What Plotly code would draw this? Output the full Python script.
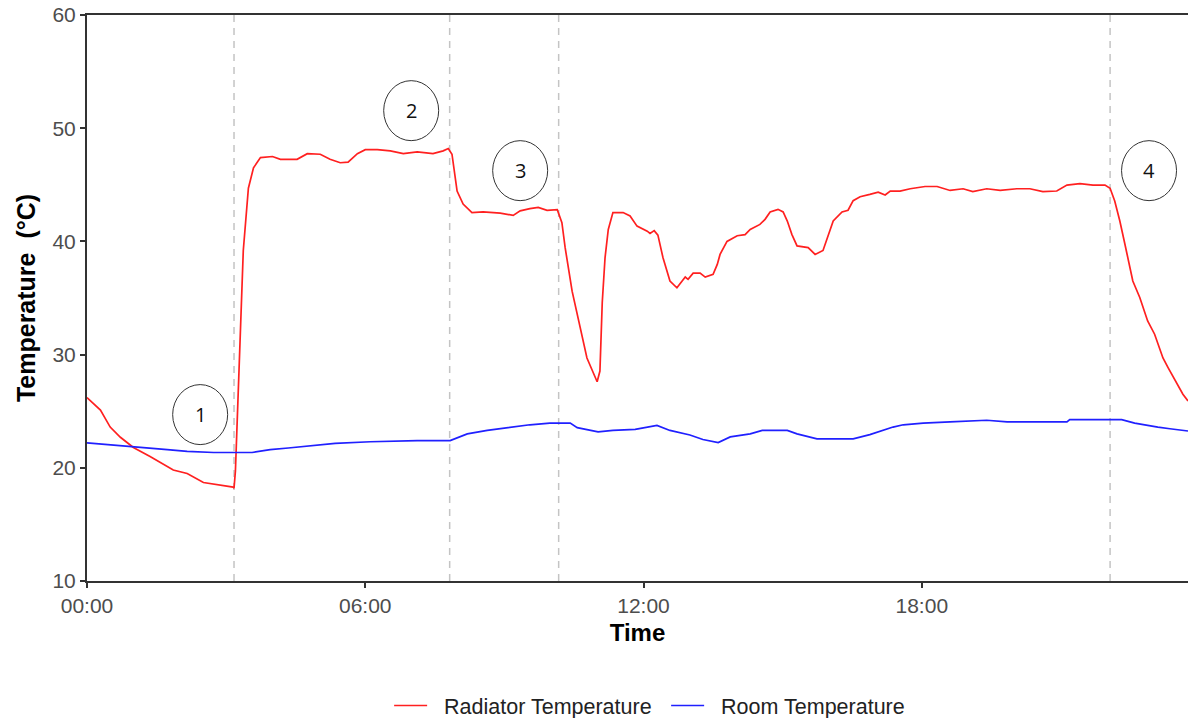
import plotly.graph_objects as go

# ---- data (time in hours since 00:00) ----
rad_hours = [0.00, 0.29, 0.50, 0.72, 1.00, 1.36, 1.86, 2.16, 2.51, 2.87, 3.15,
             3.17, 3.20, 3.22, 3.26, 3.30, 3.37, 3.48, 3.59, 3.74, 4.00, 4.17, 4.53,
             4.75, 5.03, 5.24, 5.46, 5.63, 5.83, 6.00, 6.26, 6.54, 6.82, 7.12, 7.46,
             7.68, 7.79, 7.87, 7.98, 8.11, 8.30, 8.54, 8.91, 9.19, 9.34, 9.55, 9.73,
             9.92, 10.14, 10.24, 10.31, 10.46, 10.63, 10.78, 11.00, 11.06, 11.11,
             11.17, 11.24, 11.34, 11.56, 11.71, 11.86, 12.08, 12.14, 12.23, 12.31,
             12.42, 12.57, 12.72, 12.90, 12.96, 13.07, 13.22, 13.33, 13.50, 13.59,
             13.65, 13.80, 14.02, 14.19, 14.30, 14.51, 14.62, 14.73, 14.90, 15.01,
             15.10, 15.20, 15.31, 15.55, 15.70, 15.87, 15.96, 16.09, 16.28, 16.41,
             16.52, 16.67, 16.88, 17.06, 17.21, 17.32, 17.53, 17.75, 18.07, 18.33,
             18.61, 18.89, 19.10, 19.40, 19.69, 20.05, 20.33, 20.61, 20.91, 21.13,
             21.41, 21.69, 21.95, 22.06, 22.16, 22.27, 22.38, 22.55, 22.70, 22.87,
             23.02, 23.20, 23.31, 23.50, 23.63, 23.74]
rad_temp = [26.2, 25.1, 23.6, 22.7, 21.8, 21.0, 19.8, 19.5, 18.7, 18.45, 18.3,
            18.2, 19.7, 22.0, 26.5, 32.0, 39.2, 44.7, 46.5, 47.4, 47.5, 47.25, 47.25,
            47.75, 47.7, 47.25, 46.95, 47.0, 47.75, 48.1, 48.1, 48.0, 47.75, 47.9, 47.75,
            48.0, 48.2, 47.7, 44.45, 43.3, 42.55, 42.6, 42.5, 42.3, 42.7, 42.9, 43.0,
            42.75, 42.8, 41.65, 39.45, 35.6, 32.4, 29.7, 27.6, 28.55, 34.6,
            38.55, 41.05, 42.55, 42.55, 42.25, 41.35, 40.9, 40.7, 40.95, 40.55,
            38.55, 36.5, 35.9, 36.85, 36.65, 37.2, 37.2, 36.85, 37.1, 37.97,
            38.85, 40.0, 40.5, 40.6, 41.05, 41.5, 41.95, 42.6, 42.83, 42.6,
            41.8, 40.6, 39.6, 39.45, 38.85, 39.2, 40.3, 41.8, 42.6, 42.75,
            43.6, 43.95, 44.15, 44.35, 44.1, 44.45, 44.45, 44.65, 44.85, 44.85,
            44.5, 44.65, 44.4, 44.65, 44.5, 44.65, 44.65, 44.4, 44.45, 44.98,
            45.1, 44.98, 44.98, 44.7, 43.57, 41.8, 39.75, 36.5, 35.05, 32.97,
            31.8, 29.7, 28.85, 27.4, 26.5, 25.9]

room_hours = [0.00, 0.66, 1.73, 2.16, 2.73, 3.56, 3.95, 4.34, 4.81, 5.35, 6.11,
              7.12, 7.83, 8.20, 8.63, 9.19, 9.55, 9.98, 10.42, 10.57, 11.02, 11.34,
              11.82, 12.29, 12.57, 13.00, 13.28, 13.61, 13.87, 14.30, 14.56, 15.10,
              15.31, 15.74, 16.52, 16.88, 17.38, 17.60, 18.03, 18.61, 19.40, 19.84,
              21.13, 21.19, 22.31, 22.59, 22.85, 23.09, 23.35, 23.74]
room_temp = [22.2, 21.95, 21.6, 21.45, 21.35, 21.35, 21.6, 21.75, 21.95, 22.15, 22.3,
             22.4, 22.4, 23.0, 23.3, 23.6, 23.8, 23.95, 23.95, 23.55, 23.17, 23.3,
             23.4, 23.75, 23.3, 22.9, 22.5, 22.23, 22.73, 23.0, 23.3, 23.3,
             23.0, 22.55, 22.55, 22.93, 23.6, 23.8, 23.95, 24.05, 24.2, 24.05,
             24.05, 24.25, 24.25, 23.95, 23.75, 23.6, 23.45, 23.25]

event_hours = [3.17, 7.82, 10.17, 22.06]
marker_labels = ["1", "2", "3", "4"]
marker_x = [2.44, 6.99, 9.34, 22.90]
marker_y = [24.7, 51.55, 46.25, 46.25]

series_names = ["Radiator Temperature", "Room Temperature"]
x_tickvals = [0, 6, 12, 18]
x_ticktext = ["00:00", "06:00", "12:00", "18:00"]
y_tickvals = [10, 20, 30, 40, 50, 60]

pad = "\u00a0\u00a0"
fig = go.Figure()
fig.add_trace(go.Scatter(x=rad_hours, y=rad_temp, mode="lines",
                         name=pad + series_names[0],
                         line=dict(color="#ff2020", width=1.7)))
fig.add_trace(go.Scatter(x=room_hours, y=room_temp, mode="lines",
                         name=pad + series_names[1],
                         line=dict(color="#2020ff", width=1.7)))

for h in event_hours:
    fig.add_shape(type="line", xref="x", yref="paper", x0=h, x1=h, y0=0, y1=1,
                  line=dict(color="#c4c4c4", width=1.5, dash="7px,6px"), layer="below")

for lab, cx, cy in zip(marker_labels, marker_x, marker_y):
    fig.add_shape(type="circle", xref="x", yref="y",
                  xsizemode="pixel", ysizemode="pixel",
                  xanchor=cx, yanchor=cy, x0=-27.5, x1=27.5, y0=-30, y1=30,
                  line=dict(color="#333333", width=1))
    fig.add_annotation(x=cx, y=cy, text=lab, showarrow=False,
                       font=dict(family="Open Sans, Liberation Sans", size=20, color="#111111"))

axis_font = dict(family="Liberation Sans, Arial", size=21, color="#4d4d4d")
fig.update_layout(
    width=1190, height=718,
    margin=dict(l=87, r=2, t=15, b=137, autoexpand=False),
    plot_bgcolor="white", paper_bgcolor="white",
    showlegend=True,
    legend=dict(orientation="h", x=0.526, xanchor="center", y=-0.22, yanchor="middle",
                font=dict(family="Liberation Sans, Arial", size=21.5, color="#222222"),
                itemwidth=33, entrywidth=229),
    xaxis=dict(range=[0, 23.74], tickvals=x_tickvals, ticktext=x_ticktext,
               showgrid=False, zeroline=False, showline=True, linecolor="#333333",
               linewidth=2, mirror=True, ticks="outside", ticklen=5, tickwidth=1.5,
               tickcolor="#333333", tickfont=axis_font, automargin=False,
               title=dict(text="<b>Time</b>", standoff=8,
                          font=dict(family="Liberation Sans, Arial", size=24, color="#000000"))),
    yaxis=dict(range=[10, 60], tickvals=y_tickvals,
               showgrid=False, zeroline=False, showline=True, linecolor="#333333",
               linewidth=2, ticks="outside", ticklen=5, tickwidth=1.5,
               tickcolor="#333333", tickfont=axis_font, automargin=False,
               title=dict(text="<b>Temperature  (°C)</b>", standoff=10,
                          font=dict(family="Liberation Sans, Arial", size=25, color="#000000"))),
)

fig.write_html("out.html", config={"displayModeBar": False},
               post_script="document.body.style.margin='0';document.body.style.overflow='hidden';")
